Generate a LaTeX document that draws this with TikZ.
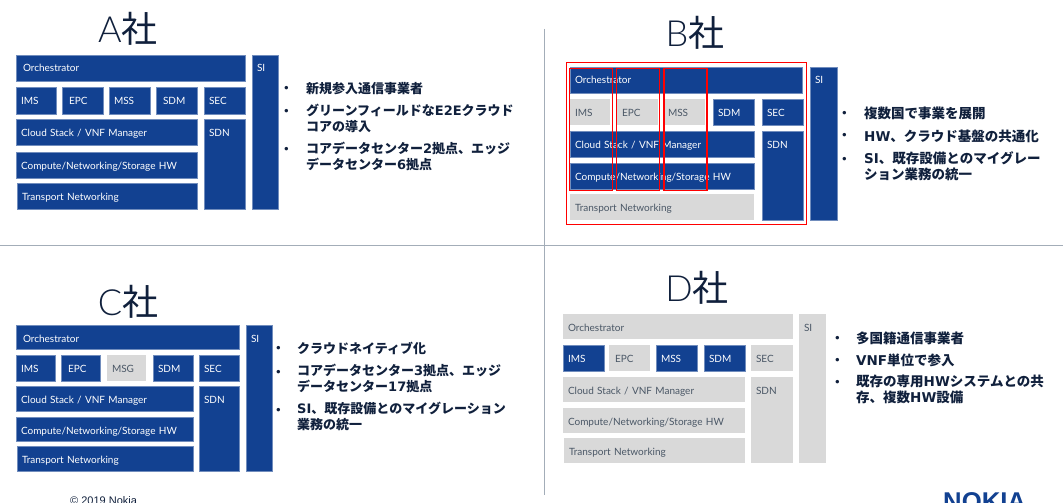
\documentclass[tikz,border=0pt]{standalone}
\usepackage{fontspec}
\setmainfont{Lato}
\newfontfamily\titlefont{Lato Light}
\newfontfamily\jafont{Noto Sans CJK JP}
\newfontfamily\latfont{DejaVu Sans}
\newfontfamily\footfont{Liberation Sans}
\newcommand{\lat}[1]{{\latfont\bfseries #1}}
\usetikzlibrary{positioning, fit}
\definecolor{nokiablue}{HTML}{124191}
\definecolor{panelgray}{HTML}{D9D9D9}
\definecolor{graytext}{HTML}{4A5766}
\definecolor{inktext}{HTML}{10203C}
\definecolor{rulegray}{HTML}{A3ADB8}
\tikzset{
	blockbase/.style={
		anchor=north west,
		align=left,
		inner xsep=5pt,
		inner ysep=0pt,
		outer sep=0pt,
		text height=17pt,
		font={\fontsize{10}{12}\selectfont},
	},
	bluebox/.style={
		blockbase,
		fill=nokiablue,
		draw=nokiablue!60,
		line width=0.3pt,
		text=white,
	},
	graybox/.style={
		blockbase,
		fill=panelgray,
		text=graytext,
	},
	dims/.style 2 args={
		minimum width=#1pt,
		text width=#1pt-10pt,
		text depth=#2pt-17pt,
	},
	title/.style={
		text=inktext,
		inner sep=0pt,
		font={\titlefont\fontsize{36}{40}\selectfont},
	},
	bulletitem/.style={
		anchor=north west,
		align=left,
		inner sep=0pt,
		text=inktext,
		font={\jafont\bfseries\fontsize{13}{16}\selectfont},
	},
	bulletwide/.style={
		bulletitem,
		font={\jafont\bfseries\fontsize{13.5}{16}\selectfont},
	},
	bulletdot/.style={
		inner sep=0pt,
		text=inktext,
		font={\fontsize{8}{10}\selectfont\bfseries},
	},
	redframe/.style={
		draw=red,
		line width=1.4pt,
		inner sep=0pt,
		anchor=north west,
	},
	rule/.style={
		draw=rulegray,
		line width=0.8pt,
	},
}
\begin{document}
\begin{tikzpicture}[x=1pt, y=-1pt]
	\useasboundingbox (0,0) rectangle (1063,503);
	\clip (0,0) rectangle (1063,503);
	\fill[white] (0,0) rectangle (1063,503);

	\coordinate (ruleL) at (0,245);
	\coordinate (ruleR) at (1063,245);
	\coordinate (ruleT) at (544,29);
	\coordinate (ruleB) at (544,495);
	\draw[rule] (ruleL) -- (ruleR);
	\draw[rule] (ruleT) -- (ruleB);

	% A
	\node (aTitle)[title] at (128,29) {A{\jafont 社}};
	\node (aOrch)[bluebox, dims={229}{26}] at (16,55) {\hspace*{2pt}Orchestrator};
	\node (aIMS)[bluebox, dims={40}{27}, below=6pt of aOrch.south west, anchor=north west] {IMS};
	\node (aEPC)[bluebox, dims={41}{27}, right=6pt of aIMS] {\hspace*{2pt}EPC};
	\node (aMSS)[bluebox, dims={41}{27}, right=6pt of aEPC] {MSS};
	\node (aSDM)[bluebox, dims={41}{27}, right=6pt of aMSS] {\hspace*{2pt}SDM};
	\node (aSEC)[bluebox, dims={41}{27}, right=7pt of aSDM] {SEC};
	\node (aCloud)[bluebox, dims={181}{26}, below=5pt of aIMS.south west, anchor=north west] {Cloud Stack / VNF Manager};
	\node (aCompute)[bluebox, dims={181}{26}, below=7pt of aCloud.south west, anchor=north west] {Compute/Networking/Storage HW};
	\node (aTransport)[bluebox, dims={180}{26}, below=5pt of aCompute.south west, anchor=north west, xshift=1pt] {Transport Networking};
	\node (aSDN)[bluebox, dims={41}{90}, below=5pt of aSEC.south west, anchor=north west] {SDN};
	\node (aSI)[bluebox, dims={26}{154}, right=7pt of aOrch.north east, anchor=north west] {SI};
	\node (aItem1)[bulletitem] at (306,82) {新規参入通信事業者};
	\node (aItem2)[bulletitem, below=9pt of aItem1.south west, anchor=north west] {グリーンフィールドな\lat{E2E}クラウド\\コアの導入};
	\node (aItem3)[bulletitem, below=9pt of aItem2.south west, anchor=north west] {コアデータセンター\lat{2}拠点、エッジ\\データセンター\lat{6}拠点};
	\node (aDot1)[bulletdot, left=17pt of aItem1.west] {•};
	\node (aDot2)[bulletdot, left=17pt of aItem2.north west, yshift=-8pt] {•};
	\node (aDot3)[bulletdot, left=17pt of aItem3.north west, yshift=-8pt] {•};

	% B
	\node (bTitle)[title] at (695,33) {B{\jafont 社}};
	\node (bOrch)[bluebox, dims={232}{26}] at (570,67) {Orchestrator};
	\node (bIMS)[graybox, dims={40}{26}, below=6pt of bOrch.south west, anchor=north west] {IMS};
	\node (bEPC)[graybox, dims={41}{26}, right=7pt of bIMS] {EPC};
	\node (bMSS)[graybox, dims={42}{26}, right=5pt of bEPC] {MSS};
	\node (bSDM)[bluebox, dims={41}{26}, right=8pt of bMSS] {SDM};
	\node (bSEC)[bluebox, dims={41}{26}, right=8pt of bSDM] {SEC};
	\node (bCloud)[bluebox, dims={184}{26}, below=6pt of bIMS.south west, anchor=north west] {Cloud Stack / VNF Manager};
	\node (bCompute)[bluebox, dims={184}{26}, below=6pt of bCloud.south west, anchor=north west] {Compute/Networking/Storage HW};
	\node (bTransport)[graybox, dims={184}{26}, below=5pt of bCompute.south west, anchor=north west] {Transport Networking};
	\node (bSDN)[bluebox, dims={41}{89}, below=6pt of bSEC.south west, anchor=north west] {SDN};
	\node (bSI)[bluebox, dims={27}{153}, right=8pt of bOrch.north east, anchor=north west] {SI};
	\node (bFrame)[redframe, fit=(bOrch)(bSEC)(bTransport)(bSDN), inner xsep=3.5pt, inner ysep=4.5pt, anchor=center] {};
	\node (bFrameIMS)[redframe, minimum width=43pt, minimum height=122pt, below=1pt of bOrch.north west, anchor=north west, xshift=-1pt] {};
	\node (bFrameEPC)[redframe, minimum width=43pt, minimum height=122pt, right=2.5pt of bFrameIMS] {};
	\node (bFrameMSS)[redframe, minimum width=43pt, minimum height=122pt, right=3pt of bFrameEPC] {};
	\node (bItem1)[bulletwide] at (864,107) {複数国で事業を展開};
	\node (bItem2)[bulletwide, below=9pt of bItem1.south west, anchor=north west] {\lat{HW}、クラウド基盤の共通化};
	\node (bItem3)[bulletwide, below=9pt of bItem2.south west, anchor=north west] {\lat{SI}、既存設備とのマイグレー\\ション業務の統一};
	\node (bDot1)[bulletdot, left=17pt of bItem1.west] {•};
	\node (bDot2)[bulletdot, left=17pt of bItem2.west] {•};
	\node (bDot3)[bulletdot, left=17pt of bItem3.north west, yshift=-8pt] {•};

	% C
	\node (cTitle)[title] at (128,302) {C{\jafont 社}};
	\node (cOrch)[bluebox, dims={223}{24}] at (16,325) {\hspace*{2pt}Orchestrator};
	\node (cIMS)[bluebox, dims={39}{26}, below=6pt of cOrch.south west, anchor=north west] {IMS};
	\node (cEPC)[bluebox, dims={39}{26}, right=6pt of cIMS] {\hspace*{2pt}EPC};
	\node (cMSG)[graybox, dims={39}{26}, right=7pt of cEPC] {MSG};
	\node (cSDM)[bluebox, dims={40}{26}, right=7pt of cMSG] {SDM};
	\node (cSEC)[bluebox, dims={40}{26}, right=6pt of cSDM] {SEC};
	\node (cCloud)[bluebox, dims={177}{25}, below=5pt of cIMS.south west, anchor=north west] {Cloud Stack / VNF Manager};
	\node (cCompute)[bluebox, dims={177}{24}, below=6pt of cCloud.south west, anchor=north west] {Compute/Networking/Storage HW};
	\node (cTransport)[bluebox, dims={176}{25}, below=5pt of cCompute.south west, anchor=north west, xshift=1pt] {Transport Networking};
	\node (cSDN)[bluebox, dims={40}{85}, below=5pt of cSEC.south west, anchor=north west] {SDN};
	\node (cSI)[bluebox, dims={26}{146}, right=7pt of cOrch.north east, anchor=north west] {SI};
	\node (cItem1)[bulletitem] at (297,342) {クラウドネイティブ化};
	\node (cItem2)[bulletitem, below=9pt of cItem1.south west, anchor=north west] {コアデータセンター\lat{3}拠点、エッジ\\データセンター\lat{17}拠点};
	\node (cItem3)[bulletitem, below=9pt of cItem2.south west, anchor=north west] {\lat{SI}、既存設備とのマイグレーション\\業務の統一};
	\node (cDot1)[bulletdot, left=16pt of cItem1.west] {•};
	\node (cDot2)[bulletdot, left=16pt of cItem2.north west, yshift=-8pt] {•};
	\node (cDot3)[bulletdot, left=16pt of cItem3.north west, yshift=-8pt] {•};

	% D
	\node (dTitle)[title] at (697,288) {D{\jafont 社}};
	\node (dOrch)[graybox, dims={230}{25}] at (563,314) {Orchestrator};
	\node (dIMS)[bluebox, dims={41}{26}, below=6pt of dOrch.south west, anchor=north west] {IMS};
	\node (dEPC)[graybox, dims={41}{26}, right=5pt of dIMS] {\hspace*{1pt}EPC};
	\node (dMSS)[bluebox, dims={41}{26}, right=6pt of dEPC] {MSS};
	\node (dSDM)[bluebox, dims={41}{26}, right=7pt of dMSS] {SDM};
	\node (dSEC)[graybox, dims={42}{26}, right=6pt of dSDM] {SEC};
	\node (dCloud)[graybox, dims={182}{25}, below=6pt of dIMS.south west, anchor=north west] {Cloud Stack / VNF Manager};
	\node (dCompute)[graybox, dims={182}{25}, below=6pt of dCloud.south west, anchor=north west] {Compute/Networking/Storage HW};
	\node (dTransport)[graybox, dims={181}{25}, below=5pt of dCompute.south west, anchor=north west, xshift=1pt] {Transport Networking};
	\node (dSDN)[graybox, dims={42}{86}, below=6pt of dSEC.south west, anchor=north west] {SDN};
	\node (dSI)[graybox, dims={27}{149}, right=6pt of dOrch.north east, anchor=north west] {SI};
	\node (dItem1)[bulletwide] at (856,332) {多国籍通信事業者};
	\node (dItem2)[bulletwide, below=8pt of dItem1.south west, anchor=north west] {\lat{VNF}単位で参入};
	\node (dItem3)[bulletwide, below=8pt of dItem2.south west, anchor=north west] {既存の専用\lat{HW}システムとの共\\存、複数\lat{HW}設備};
	\node (dDot1)[bulletdot, left=16pt of dItem1.west] {•};
	\node (dDot2)[bulletdot, left=16pt of dItem2.west] {•};
	\node (dDot3)[bulletdot, left=16pt of dItem3.north west, yshift=-8pt] {•};

	% footer
	\node (copyright)[anchor=base west, inner sep=0pt, text=inktext, font={\footfont\fontsize{11}{12}\selectfont}] at (70,504) {© 2019 Nokia};
	\node (logo)[anchor=base west, inner sep=0pt, text=nokiablue, font={\footfont\bfseries\fontsize{25.7}{26}\selectfont}] at (943,510) {NOKIA};
\end{tikzpicture}
\end{document}
